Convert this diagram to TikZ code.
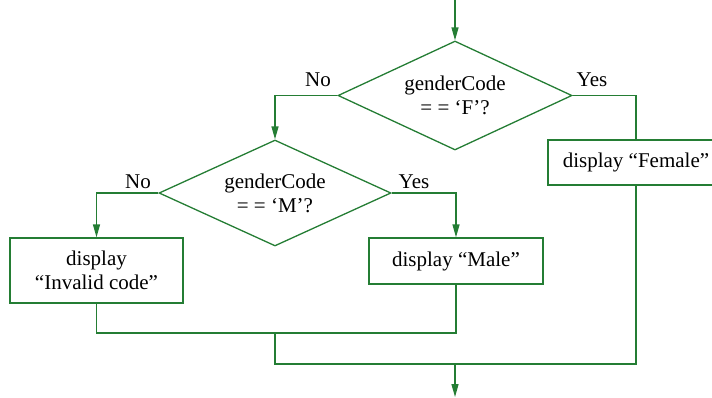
\documentclass[tikz,border=0pt]{standalone}
\usepackage{fontspec}
\setmainfont{Liberation Serif}
\usetikzlibrary{shapes.geometric,arrows.meta}
\definecolor{flow}{RGB}{36,125,52}
\begin{document}
\begin{tikzpicture}[x=1pt,y=-1pt,
  every node/.style={font=\fontsize{21}{24}\selectfont, text=black},
  line/.style={draw=flow, line width=1.3pt},
  arr/.style={line, -{Triangle[length=13pt,width=7pt]}},
  decision/.style={diamond, line, inner sep=0pt, aspect=2.1, align=center},
  procbox/.style={rectangle, line, inner sep=0pt, align=center}]
\useasboundingbox (0,0) rectangle (712,397);
\clip (0,0) rectangle (712,397);
\node[decision, minimum width=234pt, minimum height=109pt] (d1) at (455,95.5) {genderCode\\= = ‘F’?};
\node[decision, minimum width=232pt, minimum height=106pt] (d2) at (275,193) {genderCode\\= = ‘M’?};
\node[procbox, minimum width=176pt, minimum height=45pt] (fem) at (636,162.5) {display “Female”};
\node[procbox, minimum width=174pt, minimum height=46pt] (male) at (456,261) {display “Male”};
\node[procbox, minimum width=173pt, minimum height=65pt] (inv) at (96.5,270.5) {display\\“Invalid code”};
\node (no1) at (318,80) {No};
\node (yes1) at (592,80) {Yes};
\node (no2) at (138,182) {No};
\node (yes2) at (414,182) {Yes};
\coordinate (top) at (455,0);
\coordinate (bot) at (455,397);
\coordinate (j1) at (275,333);
\coordinate (m1) at (456,333);
\coordinate (j2) at (636,364);
\coordinate (j3) at (455,364);
\draw[arr] (top) -- (d1.north);
\draw[arr] (d1.west) -| (d2.north);
\draw[line] (d1.east) -| (fem.north);
\draw[arr] (d2.west) -| (inv.north);
\draw[arr] (d2.east) -| (male.north);
\draw[line] (inv.south) |- (m1) -- (male.south);
\draw[line] (j1) |- (j2) -- (fem.south);
\draw[arr] (j3) -- (bot);
\end{tikzpicture}
\end{document}
